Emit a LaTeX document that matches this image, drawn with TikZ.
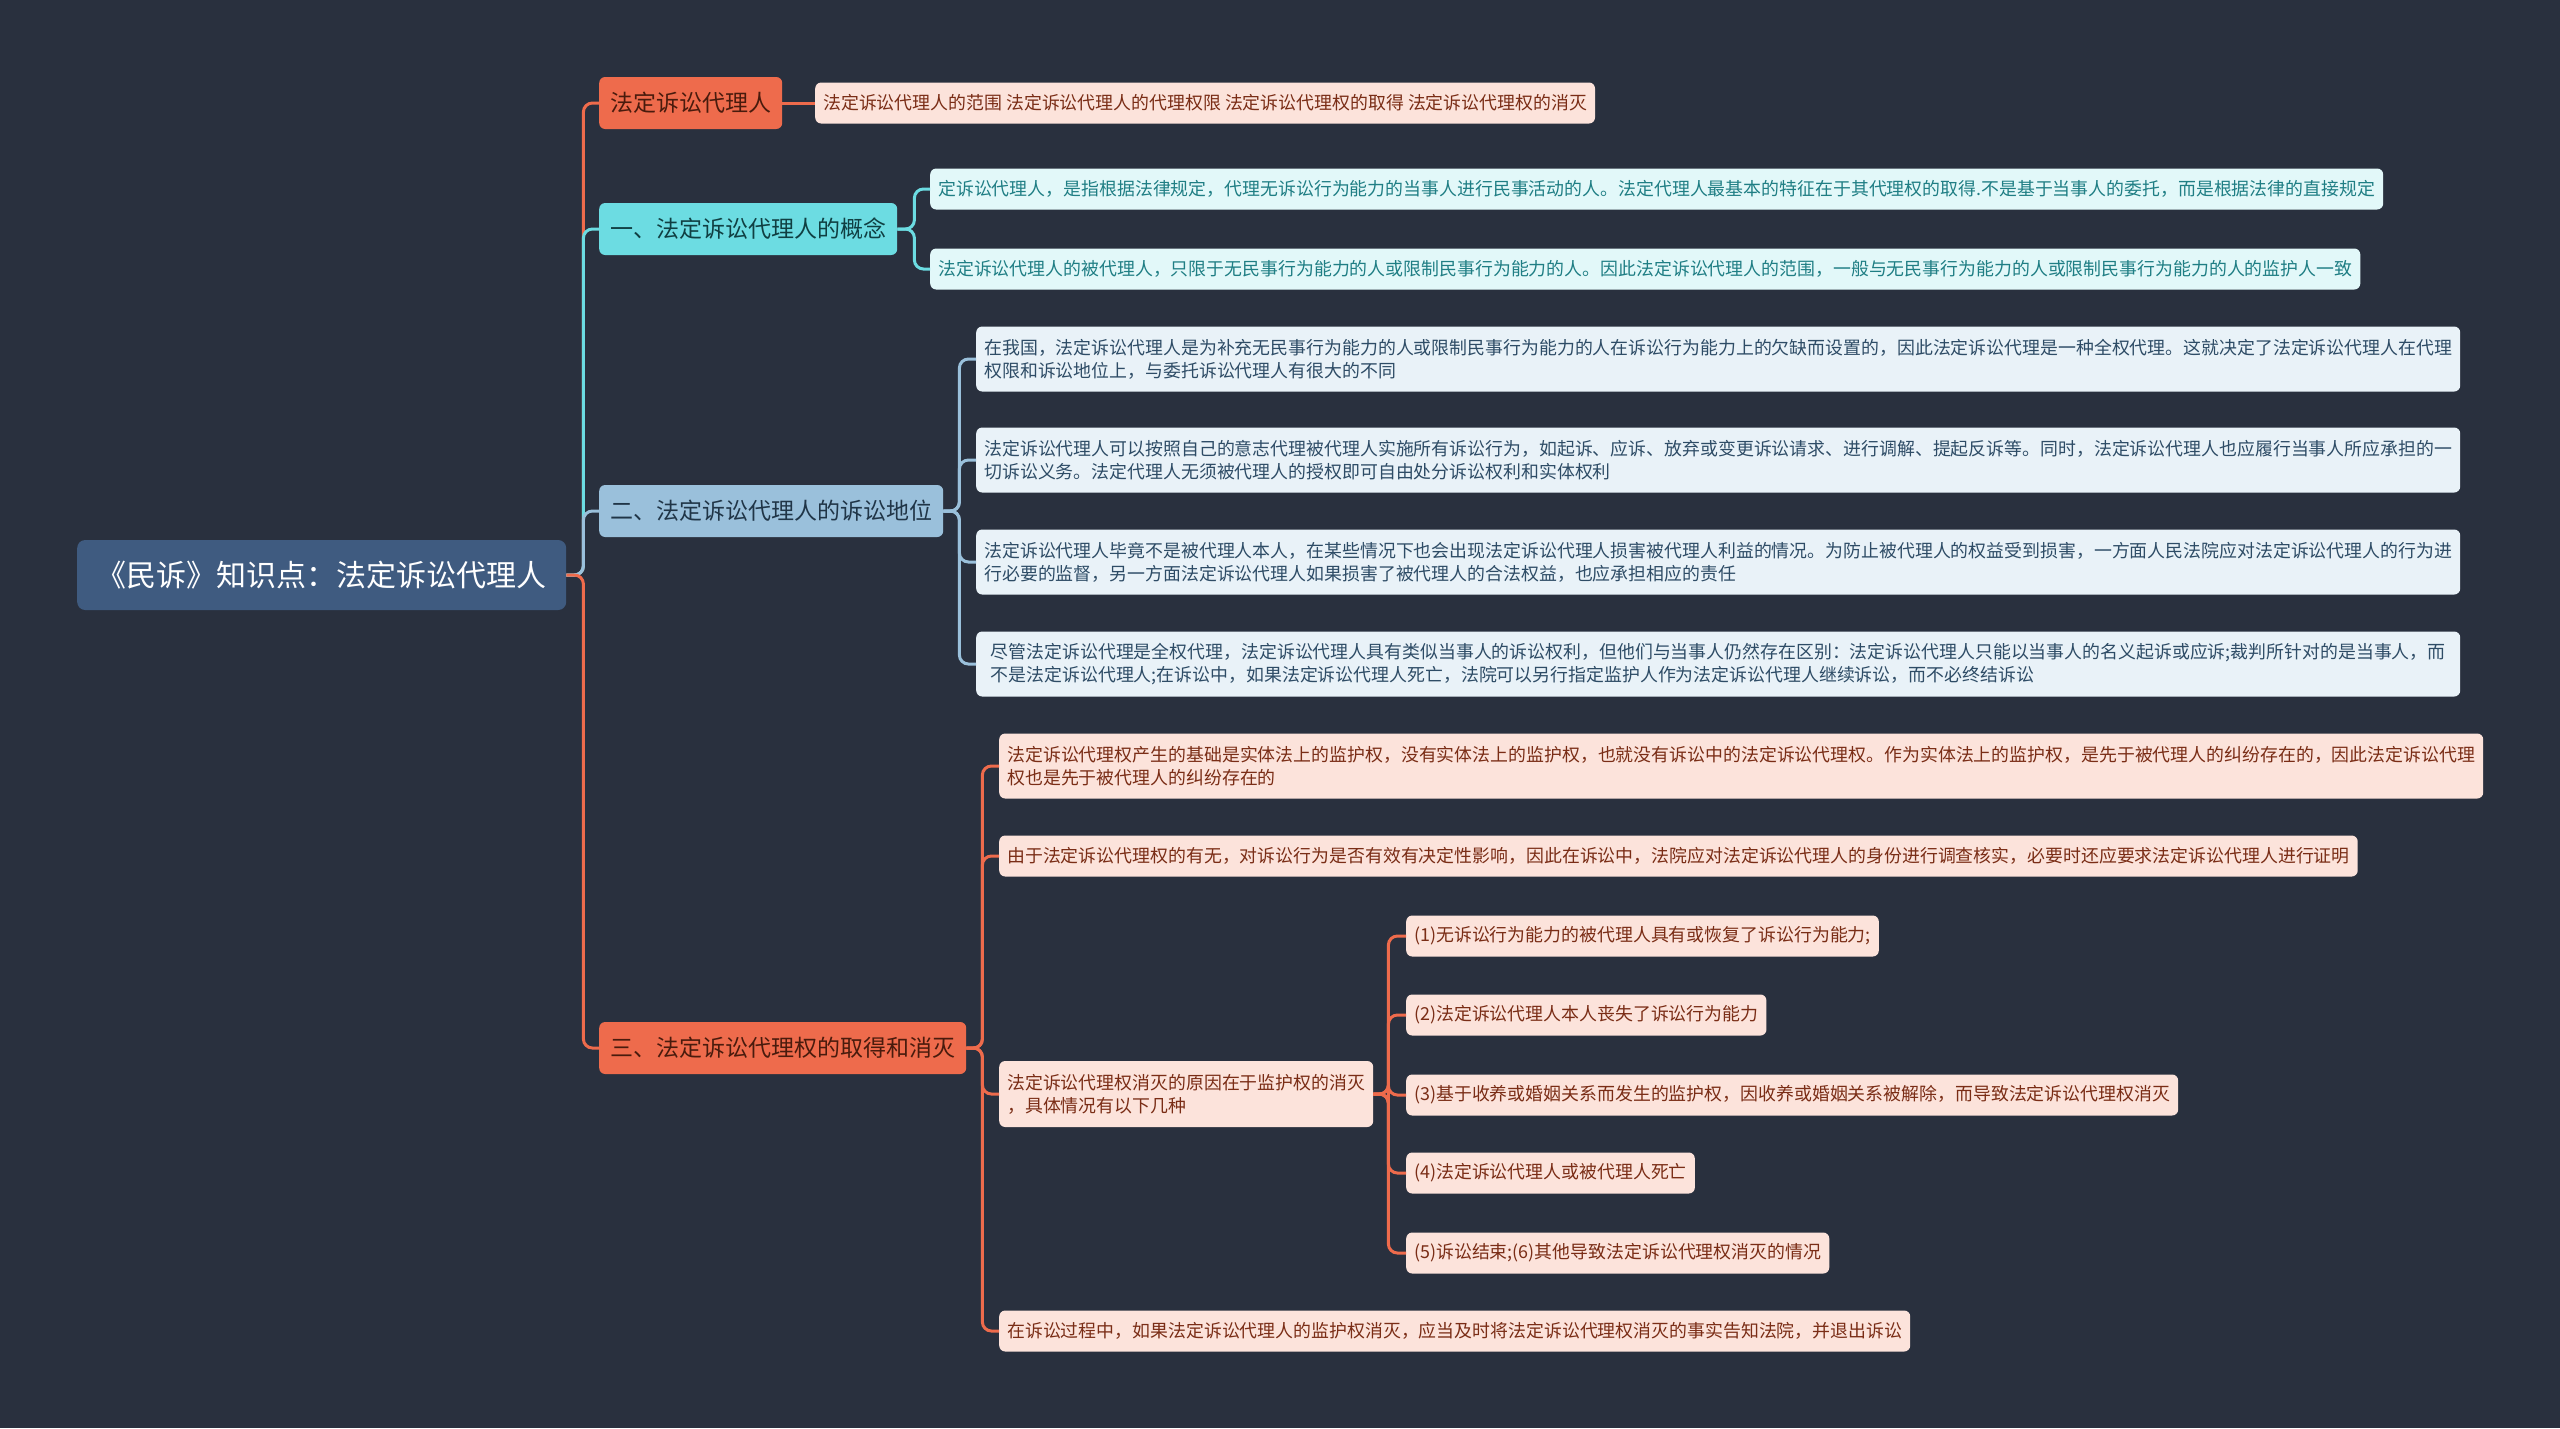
\documentclass[tikz,border=0pt]{standalone}
\usepackage{fontspec}
\newfontfamily\cjk{Noto Sans CJK SC}
\definecolor{bgdark}{HTML}{29303E}
\definecolor{rootblue}{HTML}{3F5B80}
\definecolor{orangemain}{HTML}{EE6B4C}
\definecolor{orangelight}{HTML}{FCE3DB}
\definecolor{orangetext}{HTML}{7A2D16}
\definecolor{cyanmain}{HTML}{6CDCE2}
\definecolor{cyanlight}{HTML}{E2F8F9}
\definecolor{cyantext}{HTML}{1F7E84}
\definecolor{bluemain}{HTML}{9AC0DB}
\definecolor{bluelight}{HTML}{E9F2F8}
\definecolor{bluetext}{HTML}{2E4C66}
\begin{document}
\begin{tikzpicture}[
    x=1pt, y=-1pt,
    box/.style={anchor=west, rounded corners=6pt, inner xsep=8pt, inner ysep=0pt},
    root node/.style={box, fill=rootblue, text=white, font=\cjk\fontsize{30}{36}\selectfont,
        inner xsep=19.5pt, minimum height=70pt, rounded corners=8pt},
    branch node/.style={box, font=\cjk\fontsize{23}{28}\selectfont, inner xsep=11pt, minimum height=52pt},
    leaf node/.style={box, font=\cjk\fontsize{17.9}{23}\selectfont, minimum height=41pt, align=left},
    tall leaf/.style={leaf node, minimum height=65pt, minimum width=1484pt},
    orange branch/.style={branch node, fill=orangemain, text=orangetext!60!black},
    cyan branch/.style={branch node, fill=cyanmain, text=cyantext!50!black},
    blue branch/.style={branch node, fill=bluemain, text=bluetext!70!black},
    orange leaf/.style={fill=orangelight, text=orangetext},
    cyan leaf/.style={fill=cyanlight, text=cyantext},
    blue leaf/.style={fill=bluelight, text=bluetext},
    link/.style={line width=3pt, rounded corners=9pt},
    orange link/.style={link, draw=orangemain},
    cyan link/.style={link, draw=cyanmain},
    blue link/.style={link, draw=bluemain}
]
% Background
\fill[bgdark] (0,0) rectangle (2560,1428);

% Root and main branches
\node[root node] (root) at (77,575) {《民诉》知识点：法定诉讼代理人};
\node[orange branch] (agent) at (599,103) {法定诉讼代理人};
\node[cyan branch] (concept) at (599,229) {一、法定诉讼代理人的概念};
\node[blue branch] (status) at (599,511) {二、法定诉讼代理人的诉讼地位};
\node[orange branch] (grant) at (599,1048) {三、法定诉讼代理权的取得和消灭};

\draw[orange link] (root.east) -- ++(17,0) |- (agent.west);
\draw[cyan link] (root.east) -- ++(17,0) |- (concept.west);
\draw[blue link] (root.east) -- ++(17,0) |- (status.west);
\draw[orange link] (root.east) -- ++(17,0) |- (grant.west);

% Branch 0
\node[leaf node, orange leaf] (scope) at (815,103)
    {法定诉讼代理人的范围 法定诉讼代理人的代理权限 法定诉讼代理权的取得 法定诉讼代理权的消灭};
\draw[orange link] (agent.east) -- (scope.west);

% Branch 1
\node[leaf node, cyan leaf] (def) at (930,189)
    {定诉讼代理人，是指根据法律规定，代理无诉讼行为能力的当事人进行民事活动的人。法定代理人最基本的特征在于其代理权的取得.不是基于当事人的委托，而是根据法律的直接规定};
\node[leaf node, cyan leaf] (range) at (930,269)
    {法定诉讼代理人的被代理人，只限于无民事行为能力的人或限制民事行为能力的人。因此法定诉讼代理人的范围，一般与无民事行为能力的人或限制民事行为能力的人的监护人一致};
\foreach \n in {def,range} {
    \draw[cyan link] (concept.east) -- ++(17,0) |- (\n.west);
}

% Branch 2
\foreach \y/\t [count=\i] in {
    359/{在我国，法定诉讼代理人是为补充无民事行为能力的人或限制民事行为能力的人在诉讼行为能力上的欠缺而设置的，因此法定诉讼代理是一种全权代理。这就决定了法定诉讼代理人在代理\\权限和诉讼地位上，与委托诉讼代理人有很大的不同},
    460/{法定诉讼代理人可以按照自己的意志代理被代理人实施所有诉讼行为，如起诉、应诉、放弃或变更诉讼请求、进行调解、提起反诉等。同时，法定诉讼代理人也应履行当事人所应承担的一\\切诉讼义务。法定代理人无须被代理人的授权即可自由处分诉讼权利和实体权利},
    562/{法定诉讼代理人毕竟不是被代理人本人，在某些情况下也会出现法定诉讼代理人损害被代理人利益的情况。为防止被代理人的权益受到损害，一方面人民法院应对法定诉讼代理人的行为进\\行必要的监督，另一方面法定诉讼代理人如果损害了被代理人的合法权益，也应承担相应的责任},
    664/{尽管法定诉讼代理是全权代理，法定诉讼代理人具有类似当事人的诉讼权利，但他们与当事人仍然存在区别：法定诉讼代理人只能以当事人的名义起诉或应诉;裁判所针对的是当事人，而\\不是法定诉讼代理人;在诉讼中，如果法定诉讼代理人死亡，法院可以另行指定监护人作为法定诉讼代理人继续诉讼，而不必终结诉讼}} {
    \node[tall leaf, blue leaf] (pos\i) at (976,\y) {\t};
    \draw[blue link] (status.east) -- ++(16,0) |- (pos\i.west);
}

% Branch 3
\node[tall leaf, orange leaf] (basis) at (999,766)
    {法定诉讼代理权产生的基础是实体法上的监护权，没有实体法上的监护权，也就没有诉讼中的法定诉讼代理权。作为实体法上的监护权，是先于被代理人的纠纷存在的，因此法定诉讼代理\\权也是先于被代理人的纠纷存在的};
\node[leaf node, orange leaf] (check) at (999,856)
    {由于法定诉讼代理权的有无，对诉讼行为是否有效有决定性影响，因此在诉讼中，法院应对法定诉讼代理人的身份进行调查核实，必要时还应要求法定诉讼代理人进行证明};
\node[leaf node, orange leaf, minimum height=66pt] (lapse) at (999,1094)
    {法定诉讼代理权消灭的原因在于监护权的消灭\\，具体情况有以下几种};
\node[leaf node, orange leaf] (quit) at (999,1331)
    {在诉讼过程中，如果法定诉讼代理人的监护权消灭，应当及时将法定诉讼代理权消灭的事实告知法院，并退出诉讼};
\foreach \n in {basis,check,lapse,quit} {
    \draw[orange link] (grant.east) -- ++(16,0) |- (\n.west);
}

% Causes of lapse
\foreach \y/\t [count=\i] in {
    936/{(1)无诉讼行为能力的被代理人具有或恢复了诉讼行为能力;},
    1015/{(2)法定诉讼代理人本人丧失了诉讼行为能力},
    1095/{(3)基于收养或婚姻关系而发生的监护权，因收养或婚姻关系被解除，而导致法定诉讼代理权消灭},
    1173/{(4)法定诉讼代理人或被代理人死亡},
    1253/{(5)诉讼结束;(6)其他导致法定诉讼代理权消灭的情况}} {
    \node[leaf node, orange leaf] (cause\i) at (1406,\y) {\t};
    \draw[orange link] (lapse.east) -- ++(15,0) |- (cause\i.west);
}
\end{tikzpicture}
\end{document}
